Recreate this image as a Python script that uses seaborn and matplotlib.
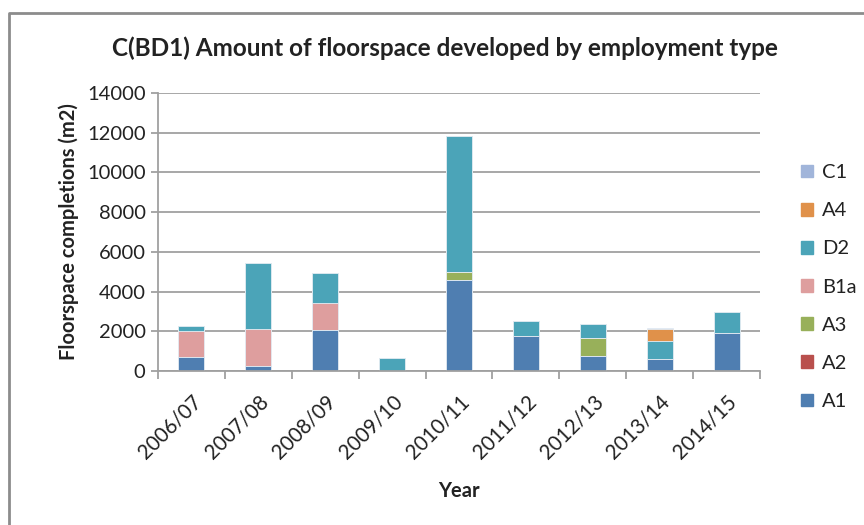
import matplotlib
matplotlib.use("Agg")
import matplotlib.pyplot as plt
from matplotlib.patches import Patch
from matplotlib.lines import Line2D
import numpy as np
import pandas as pd
import seaborn as sns

years = ["2006/07", "2007/08", "2008/09", "2009/10", "2010/11",
         "2011/12", "2012/13", "2013/14", "2014/15"]
A1 = [700, 250, 2050, 0, 4600, 1750, 750, 600, 1900]
A2 = [0, 0, 0, 0, 0, 0, 0, 0, 0]
A3 = [0, 0, 0, 0, 400, 0, 920, 0, 0]
B1a = [1320, 1850, 1370, 0, 0, 0, 0, 0, 0]
D2 = [240, 3320, 1525, 650, 6850, 750, 700, 900, 1050]
A4 = [0, 0, 0, 0, 0, 0, 0, 600, 0]
C1 = [0, 0, 0, 0, 0, 0, 0, 50, 0]

series_names = ["A1", "A2", "A3", "B1a", "D2", "A4", "C1"]
series_values = [A1, A2, A3, B1a, D2, A4, C1]
colors = {"A1": "#4F7EB1", "A2": "#B9504D", "A3": "#98B05A", "B1a": "#DE9E9E",
          "D2": "#4BA4B8", "A4": "#E0914A", "C1": "#A1B5DA"}

df = pd.DataFrame({"Year": years})
for name, vals in zip(series_names, series_values):
    df[name] = vals
# cumulative heights: each layer is drawn as the running total, top layer first
cum = df[series_names].cumsum(axis=1)

plt.rcParams["font.family"] = ["Lato", "DejaVu Sans"]
fig = plt.figure(figsize=(8.64, 5.25), dpi=100)
fig.patch.set_facecolor("white")
ax = fig.add_axes([158 / 864, 1 - 371 / 525, 602 / 864, 278 / 525])

for name in reversed(series_names):
    sns.barplot(x=df["Year"], y=cum[name], color=colors[name], width=0.39,
                saturation=1, ax=ax, edgecolor="#E6EEF5", linewidth=0.6,
                order=years)

ax.set_xlim(-0.5, 8.5)
ax.set_ylim(0, 14000)
ax.set_yticks(np.arange(0, 14001, 2000))
ax.yaxis.grid(True, color="#A0A0A0", linewidth=1.3)
ax.set_axisbelow(True)
for s in ["top", "right"]:
    ax.spines[s].set_visible(False)
for s in ["left", "bottom"]:
    ax.spines[s].set_color("#A0A0A0")
    ax.spines[s].set_linewidth(1.3)

ax.tick_params(axis="y", labelsize=14.5, colors="#A0A0A0", labelcolor="#222222",
               length=5, width=1.3, pad=4)
ax.set_xticks(range(len(years)))
ax.set_xticklabels(years, rotation=45, ha="right", rotation_mode="anchor",
                   fontsize=14.8, color="#222222")
ax.tick_params(axis="x", which="major", length=0, pad=15)
ax.set_xticks(np.arange(-0.5, 9, 1), minor=True)
ax.tick_params(axis="x", which="minor", length=6, width=1.3, color="#A0A0A0")

ax.set_xlabel("Year", fontsize=14.5, fontweight="bold", color="#222222", labelpad=13)
ax.set_ylabel("Floorspace completions (m2)", fontsize=14.5, fontweight="bold",
              color="#222222", labelpad=6)
fig.text(445 / 864, 1 - 48 / 525,
         "C(BD1) Amount of floorspace developed by employment type",
         ha="center", va="center", fontsize=17.5, fontweight="bold", color="#222222")

handles = [Patch(facecolor=colors[n], edgecolor=colors[n], label=n)
           for n in reversed(series_names)]
fig.legend(handles=handles, loc="upper left", bbox_to_anchor=(783 / 864, 1 - 146 / 525),
           frameon=False, fontsize=14.5, handlelength=0.6, handleheight=0.6,
           handletextpad=0.45, labelspacing=1.05, labelcolor="#222222")

# outer chart frame
fig.add_artist(Line2D([9 / 864, 9 / 864, 1.0], [0.0, 1 - 13 / 525, 1 - 13 / 525],
                      transform=fig.transFigure, color="#8C8C8C", linewidth=2))

fig.savefig("out.png", dpi=100, facecolor="white")
